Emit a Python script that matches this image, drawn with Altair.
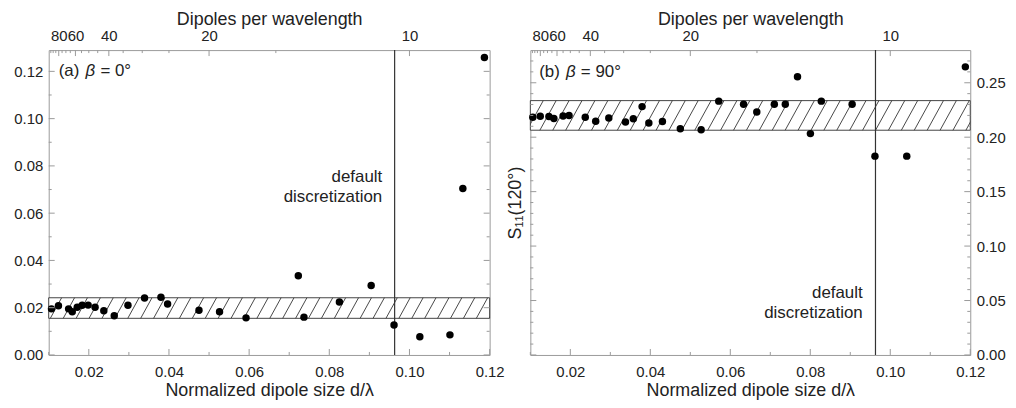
import altair as alt
import pandas as pd
import numpy as np

# ---------------- data ----------------
# panel (a) beta = 0 deg
a_x = [0.01069, 0.01243, 0.01496, 0.01587, 0.01711, 0.01835, 0.01984, 0.02157,
       0.02375, 0.02635, 0.02977, 0.03391, 0.03800, 0.03966, 0.04749, 0.05262,
       0.05923, 0.07227, 0.07368, 0.08252, 0.09045, 0.09615, 0.10259, 0.11010,
       0.11332, 0.11870]
a_y = [0.0195, 0.0208, 0.0195, 0.0183, 0.0202, 0.0210, 0.0211, 0.0202,
       0.0187, 0.0166, 0.0210, 0.0241, 0.0244, 0.0216, 0.0189, 0.0183,
       0.0157, 0.0335, 0.0160, 0.0224, 0.0294, 0.0127, 0.0077, 0.0085,
       0.0704, 0.1259]
# panel (b) beta = 90 deg
b_x = [0.01062, 0.01248, 0.01464, 0.01589, 0.01819, 0.01968, 0.02373, 0.02634,
       0.02962, 0.03379, 0.03575, 0.03794, 0.03963, 0.04303, 0.04750, 0.05271,
       0.05711, 0.06332, 0.06662, 0.07101, 0.07375, 0.07680, 0.08003, 0.08276,
       0.09046, 0.09617, 0.10412, 0.11877]
b_y = [0.2183, 0.2192, 0.2190, 0.2171, 0.2194, 0.2199, 0.2183, 0.2146,
       0.2177, 0.2139, 0.2169, 0.2281, 0.2131, 0.2144, 0.2077, 0.2069,
       0.2331, 0.2303, 0.2231, 0.2303, 0.2303, 0.2555, 0.2033, 0.2331,
       0.2303, 0.1826, 0.1826, 0.2646]

a_band = [0.0155, 0.0242]
b_band = [0.2064, 0.2336]
default_d = [0.0963]

x_domain = [0.01, 0.12]
a_ydomain = [0.0, 0.129]
b_ydomain = [0.0, 0.28]

x_major = [0.02, 0.04, 0.06, 0.08, 0.10, 0.12]
x_minor = [0.01, 0.03, 0.05, 0.07, 0.09, 0.11]
a_y_major = [0.00, 0.02, 0.04, 0.06, 0.08, 0.10, 0.12]
a_y_minor = [0.01, 0.03, 0.05, 0.07, 0.09, 0.11]
b_y_major = [0.00, 0.05, 0.10, 0.15, 0.20, 0.25]
b_y_minor = [0.01, 0.02, 0.03, 0.04, 0.06, 0.07, 0.08, 0.09, 0.11, 0.12, 0.13,
             0.14, 0.16, 0.17, 0.18, 0.19, 0.21, 0.22, 0.23, 0.24, 0.26, 0.27]
top_major = [80, 60, 40, 20, 10]           # dipoles per wavelength
top_minor = [95, 90, 85, 75, 70, 65, 55, 50, 45, 35, 30, 25, 15]

# panel labels: plain prefix, italic symbol, plain suffix
a_label = ["(a)", "β", "= 0°"]
b_label = ["(b)", "β", "= 90°"]
a_label_pos = [0.0125, 0.120]
b_label_pos = [0.0122, 0.260]
ann_lines = ["default", "discretization"]
a_ann_pos = [0.0932, [0.0753, 0.0669]]
b_ann_pos = [0.0931, [0.0567, 0.0385]]

x_title = "Normalized dipole size d/λ"
top_title = "Dipoles per wavelength"
b_y_title = "S₁₁(120°)"

# ---------------- style ----------------
FONT = "Liberation Sans"
H = 307
W_A = 444
W_B = 443
FRAME = "#9a9a9a"
INK = "#222222"
HATCH_GAP = 13.0      # px between hatch lines
HATCH_SLANT = 0.55    # dx/dy of hatch lines
MAJ, MIN = 6, 3       # inward tick lengths
LABEL_DX = [0, 27, 42]  # px offsets of the three label pieces


def panel(px, py, band, ydom, W, y_major, y_minor, label, label_pos, ann_pos,
          right_labels):
    xs = alt.Scale(domain=x_domain, nice=False, zero=False)
    ys = alt.Scale(domain=ydom, nice=False, zero=False)

    def X(f, axis=None):
        return alt.X(f, type="quantitative", scale=xs, axis=axis)

    def Y(f, axis=None):
        return alt.Y(f, type="quantitative", scale=ys, axis=axis)

    common = dict(ticks=False, tickSize=0, domain=False, grid=False,
                  labelFont=FONT, titleFont=FONT, labelFontSize=15,
                  titleFontSize=18, labelColor=INK, titleColor=INK,
                  titleFontWeight="normal", labelFlush=False)

    bottom_axis = alt.Axis(orient="bottom", values=x_major, format=".2f",
                           title=x_title, labelPadding=10, titlePadding=2,
                           **common)
    if right_labels:
        left_axis = alt.Axis(orient="left", labels=False, title=b_y_title,
                             titlePadding=6, **common)
    else:
        left_axis = alt.Axis(orient="left", values=y_major, format=".2f",
                             title=None, labelPadding=6, **common)

    pts = pd.DataFrame({"x": px, "y": py})
    bdf = pd.DataFrame({"lo": [band[0]], "hi": [band[1]]})

    # hatch lines across the band
    pxu = W / (x_domain[1] - x_domain[0])
    h_px = (band[1] - band[0]) / (ydom[1] - ydom[0]) * H
    dx = HATCH_SLANT * h_px / pxu
    step = HATCH_GAP / pxu
    starts = np.arange(x_domain[0] - dx, x_domain[1] + step, step)
    hdf = pd.DataFrame({"x0": starts, "x1": starts + dx,
                        "y0": band[0], "y1": band[1]})

    layers = []
    layers.append(alt.Chart(bdf).mark_rect(fill="white", stroke="#444444",
                                           strokeWidth=1).encode(
        y=Y("lo"), y2="hi", x=alt.value(0), x2=alt.value(W)))
    layers.append(alt.Chart(hdf).mark_rule(color="#333333", strokeWidth=0.9,
                                           clip=True).encode(
        x=X("x0"), x2="x1", y=Y("y0"), y2="y1"))
    layers.append(alt.Chart(pd.DataFrame({"d": default_d})).mark_rule(
        color="#333333", strokeWidth=1.2).encode(x=X("d")))
    layers.append(alt.Chart(pts).mark_circle(size=56, color="black",
                                             opacity=1).encode(
        x=X("x", bottom_axis), y=Y("y", left_axis)))

    for piece, ddx, style in zip(label, LABEL_DX, ["normal", "italic", "normal"]):
        lab = pd.DataFrame({"x": [label_pos[0]], "y": [label_pos[1]], "t": [piece]})
        layers.append(alt.Chart(lab).mark_text(
            align="left", baseline="middle", fontSize=17, color=INK, font=FONT,
            fontStyle=style, dx=ddx).encode(x=X("x"), y=Y("y"), text="t:N"))
    ann = pd.DataFrame({"x": [ann_pos[0]] * 2, "y": ann_pos[1], "t": ann_lines})
    layers.append(alt.Chart(ann).mark_text(align="right", baseline="middle",
                                           fontSize=17, color=INK, font=FONT).encode(
        x=X("x"), y=Y("y"), text="t:N"))

    # inward ticks
    def hticks(vals, length, top, axis=None):
        df = pd.DataFrame({"v": vals})
        if top:
            enc = dict(x=X("v", axis), y=alt.value(0), y2=alt.value(length))
        else:
            enc = dict(x=X("v", axis), y=alt.value(H), y2=alt.value(H - length))
        return alt.Chart(df).mark_rule(color=FRAME, strokeWidth=1).encode(**enc)

    def vticks(vals, length, right, axis=None):
        df = pd.DataFrame({"v": vals})
        if right:
            enc = dict(y=Y("v", axis), x=alt.value(W), x2=alt.value(W - length))
        else:
            enc = dict(y=Y("v", axis), x=alt.value(0), x2=alt.value(length))
        return alt.Chart(df).mark_rule(color=FRAME, strokeWidth=1).encode(**enc)

    top_axis = alt.Axis(orient="top", values=[1.0 / n for n in top_major],
                        labelExpr="round(1/datum.value)", title=top_title,
                        labelOverlap=False, labelBound=False,
                        labelPadding=7, titlePadding=0, **common)
    layers.append(hticks(x_major, MAJ, False))
    layers.append(hticks(x_minor, MIN, False))
    layers.append(hticks([1.0 / n for n in top_major], MAJ, True, top_axis))
    layers.append(hticks([1.0 / n for n in top_minor], MIN, True))
    layers.append(vticks(y_major, MAJ, False))
    layers.append(vticks(y_minor, MIN, False))
    if right_labels:
        right_axis = alt.Axis(orient="right", values=y_major, format=".2f",
                              title=None, labelPadding=6, **common)
        layers.append(vticks(y_major, MAJ, True, right_axis))
    else:
        layers.append(vticks(y_major, MAJ, True))
    layers.append(vticks(y_minor, MIN, True))

    return alt.layer(*layers).resolve_axis(x="independent", y="independent") \
        .properties(width=W, height=H)


left = panel(a_x, a_y, a_band, a_ydomain, W_A, a_y_major, a_y_minor,
             a_label, a_label_pos, a_ann_pos, False)
right = panel(b_x, b_y, b_band, b_ydomain, W_B, b_y_major, b_y_minor,
              b_label, b_label_pos, b_ann_pos, True)

chart = alt.hconcat(left, right, spacing=41).properties(
    bounds="flush",
    padding={"left": 5, "top": 0, "right": 2, "bottom": 2},
).configure(font=FONT, background="white").configure_view(
    stroke=FRAME, strokeWidth=1)

chart.save("out.html", embed_options={"renderer": "svg", "actions": False})
